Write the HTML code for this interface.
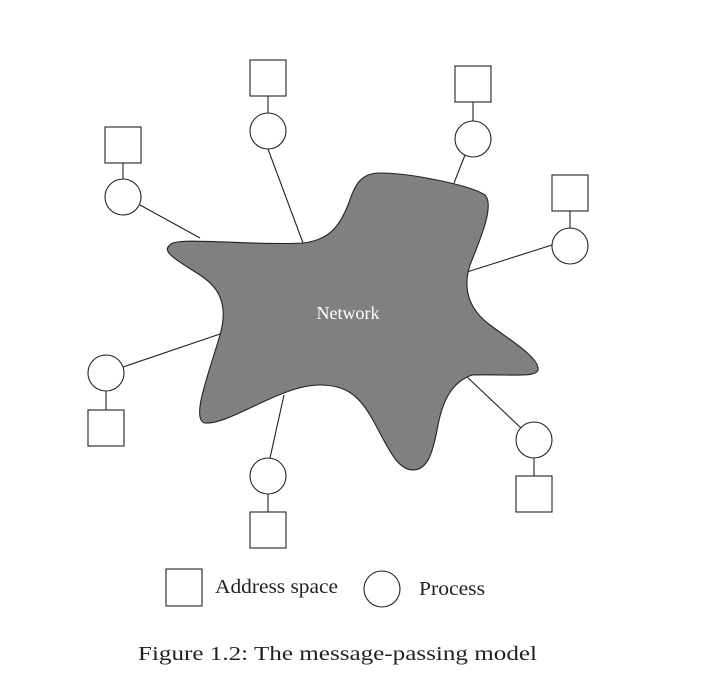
<!DOCTYPE html>
<html><head><meta charset="utf-8"><style>html,body{margin:0;padding:0;background:#fff} text{font-family:"Liberation Serif",serif}</style></head>
<body>
<svg width="723" height="698" viewBox="0 0 723 698" xmlns="http://www.w3.org/2000/svg" style="display:block">
<g stroke="#222" stroke-width="1.1" fill="none">
<line x1="140" y1="205" x2="200" y2="238"/>
<line x1="268" y1="149" x2="303" y2="243"/>
<line x1="465" y1="155" x2="454" y2="183"/>
<line x1="552" y1="245" x2="467" y2="272"/>
<line x1="123" y1="367" x2="223" y2="333"/>
<line x1="270" y1="458" x2="284" y2="395"/>
<line x1="521" y1="428" x2="465" y2="375"/>
</g>
<path d="M170,245 C175,236 250,246 303,243 C330,240 340,225 348,205 C355,185 360,173 380,173 C410,173 470,185 485,195 C495,205 480,240 470,265 C462,290 470,310 490,325 C510,340 540,358 538,370 C536,378 510,374 472,375 C452,382 443,400 438,425 C433,452 428,470 413,470 C395,470 385,440 370,415 C358,395 345,385 320,385 C280,385 230,425 205,423 C190,420 210,370 220,335 C230,300 215,285 200,275 C180,262 160,252 170,245 Z" fill="#808083" stroke="#222" stroke-width="1.1"/>
<text x="348" y="319" style="font-family:'Liberation Serif',serif" font-size="18" fill="#fff" text-anchor="middle">Network</text>
<g stroke="#222" stroke-width="1.1" fill="#fff">
<rect x="105" y="127" width="36" height="36"/><line x1="123" y1="163" x2="123" y2="179"/><circle cx="123" cy="197" r="18"/>
<rect x="250" y="60" width="36" height="36"/><line x1="268" y1="96" x2="268" y2="113"/><circle cx="268" cy="131" r="18"/>
<rect x="455" y="66" width="36" height="36"/><line x1="473" y1="102" x2="473" y2="121"/><circle cx="473" cy="139" r="18"/>
<rect x="552" y="175" width="36" height="36"/><line x1="570" y1="211" x2="570" y2="228"/><circle cx="570" cy="246" r="18"/>
<circle cx="106" cy="373" r="18"/><line x1="106" y1="391" x2="106" y2="410"/><rect x="88" y="410" width="36" height="36"/>
<circle cx="268" cy="476" r="18"/><line x1="268" y1="494" x2="268" y2="512"/><rect x="250" y="512" width="36" height="36"/>
<circle cx="534" cy="440" r="18"/><line x1="534" y1="458" x2="534" y2="476"/><rect x="516" y="476" width="36" height="36"/>
<rect x="166" y="569" width="36" height="37"/>
<circle cx="382" cy="589" r="18"/>
</g>
<g style="font-family:'Liberation Serif',serif" fill="#222">
<text x="215" y="593" font-size="20" textLength="123" lengthAdjust="spacingAndGlyphs">Address space</text>
<text x="419" y="595" font-size="20" textLength="66" lengthAdjust="spacingAndGlyphs">Process</text>
<text x="138" y="660" font-size="20" textLength="399" lengthAdjust="spacingAndGlyphs">Figure 1.2: The message-passing model</text>
</g>
</svg>
</body></html>
